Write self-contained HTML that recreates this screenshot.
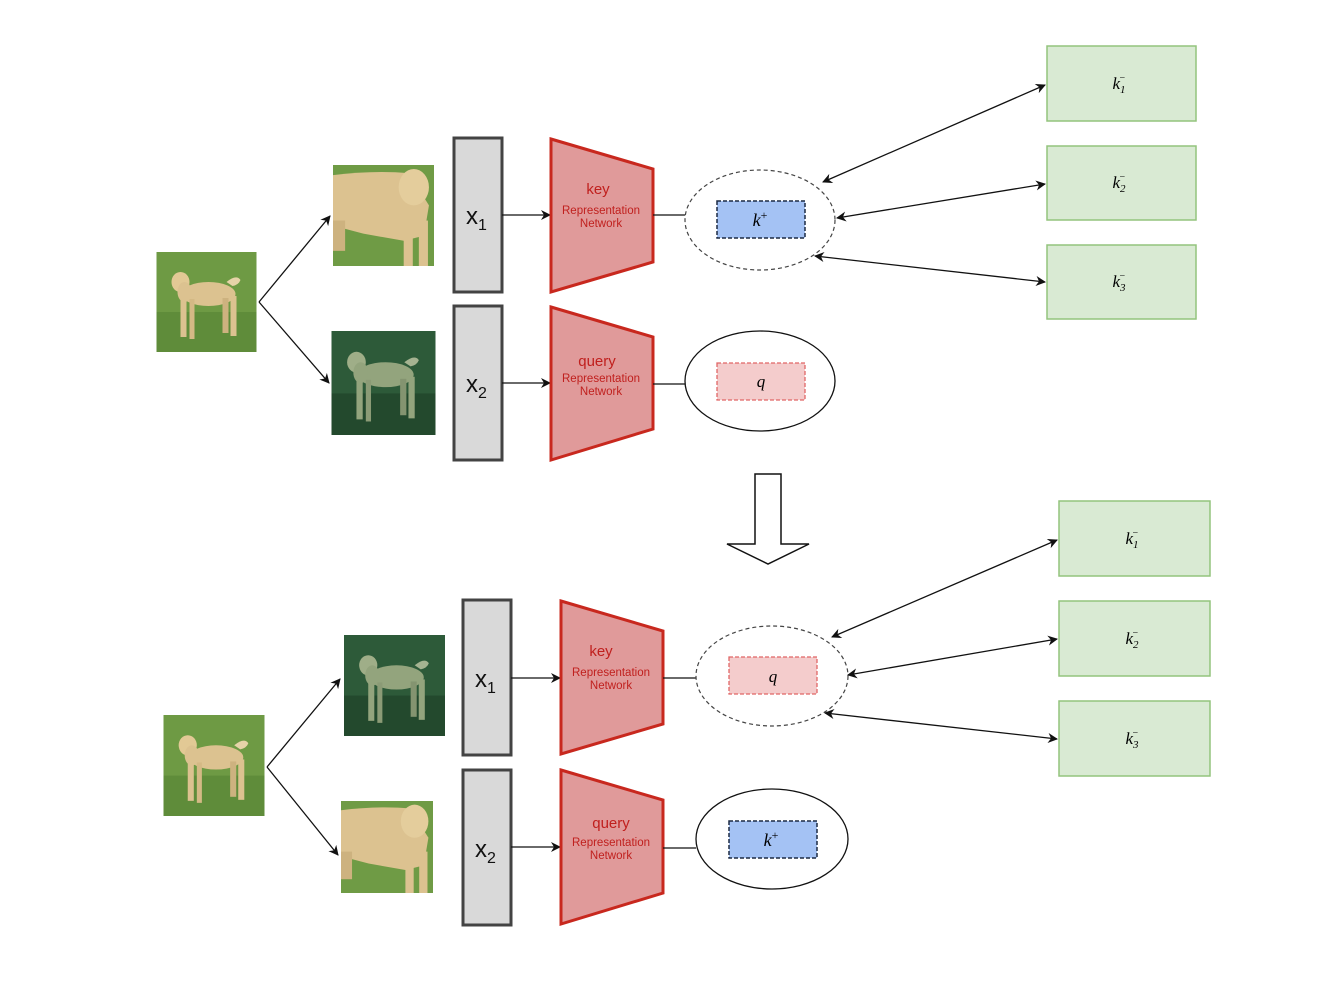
<!DOCTYPE html>
<html><head><meta charset="utf-8"><style>
html,body{margin:0;padding:0;background:#fff;}
svg{display:block;}
.lbl{font-family:"Liberation Sans",sans-serif;fill:#c0201e;text-anchor:middle;}
.math{font-family:"Liberation Serif",serif;font-style:italic;text-anchor:middle;}
.x{font-family:"Liberation Sans",sans-serif;fill:#111;}
</style></head><body>
<svg width="1337" height="1000" viewBox="0 0 1337 1000" xmlns="http://www.w3.org/2000/svg">
<defs>
<marker id="ah" viewBox="0 0 10 10" refX="9" refY="5" markerWidth="11" markerHeight="10" markerUnits="userSpaceOnUse" orient="auto-start-reverse">
<path d="M0,0 L10,5 L0,10 L3,5 z" fill="#111"/></marker>
<symbol id="dogfull" viewBox="0 0 100 100">
<rect width="100" height="100" fill="#6e9a44"/>
<rect y="60" width="100" height="40" fill="#5f8c3a"/>
<path d="M70,30 Q80,22 84,28 Q82,33 76,34 Z" fill="#e6d3a8"/>
<ellipse cx="52" cy="42" rx="27" ry="12" fill="#dcc290"/>
<ellipse cx="24" cy="30" rx="9" ry="10" fill="#e2c995"/>
<ellipse cx="28" cy="40" rx="7" ry="10" fill="#dcc290"/>
<rect x="24" y="45" width="6" height="40" fill="#dcc290"/>
<rect x="33" y="47" width="5" height="40" fill="#d4b985"/>
<rect x="66" y="46" width="6" height="35" fill="#cdb27f"/>
<rect x="74" y="44" width="6" height="40" fill="#dcc290"/>
</symbol>
<symbol id="doggreen" viewBox="0 0 100 100">
<rect width="100" height="100" fill="#2d5a39"/>
<rect y="60" width="100" height="40" fill="#23492d"/>
<path d="M70,30 Q80,22 84,28 Q82,33 76,34 Z" fill="#a5b391"/>
<ellipse cx="52" cy="42" rx="27" ry="12" fill="#93a47d"/>
<ellipse cx="24" cy="30" rx="9" ry="10" fill="#9fae88"/>
<ellipse cx="28" cy="40" rx="7" ry="10" fill="#93a47d"/>
<rect x="24" y="45" width="6" height="40" fill="#93a47d"/>
<rect x="33" y="47" width="5" height="40" fill="#8b9b76"/>
<rect x="66" y="46" width="6" height="35" fill="#849470"/>
<rect x="74" y="44" width="6" height="40" fill="#93a47d"/>
</symbol>
<symbol id="dogcrop" viewBox="0 0 100 100" preserveAspectRatio="none">
<rect width="100" height="100" fill="#6f9b45"/>
<path d="M0,10 Q40,5 75,8 L95,40 L90,70 L70,75 L30,68 L0,60 Z" fill="#dcc290"/>
<ellipse cx="80" cy="22" rx="15" ry="18" fill="#e4cd9c"/>
<rect x="0" y="55" width="12" height="30" fill="#cdb27f"/>
<rect x="70" y="60" width="9" height="40" fill="#dcc290"/>
<rect x="85" y="55" width="9" height="45" fill="#dcc290"/>
</symbol>
</defs>

<use href="#dogfull" x="156" y="252" width="101" height="100"/>
<use href="#dogcrop" x="333" y="165" width="101" height="101"/>
<use href="#doggreen" x="331" y="331" width="105" height="104"/>
<line x1="259" y1="302" x2="330" y2="216" stroke="#111" stroke-width="1.3" marker-end="url(#ah)"/>
<line x1="259" y1="302" x2="329" y2="383" stroke="#111" stroke-width="1.3" marker-end="url(#ah)"/>

<rect x="454" y="138" width="48" height="154" fill="#d9d9d9" stroke="#434343" stroke-width="3"/>
<text class="x" x="466" y="224" font-size="24">x<tspan font-size="16" dy="6">1</tspan></text>
<rect x="454" y="306" width="48" height="154" fill="#d9d9d9" stroke="#434343" stroke-width="3"/>
<text class="x" x="466" y="392" font-size="24">x<tspan font-size="16" dy="6">2</tspan></text>

<line x1="502" y1="215" x2="550" y2="215" stroke="#111" stroke-width="1.2" marker-end="url(#ah)"/>
<line x1="502" y1="383" x2="550" y2="383" stroke="#111" stroke-width="1.2" marker-end="url(#ah)"/>

<polygon points="551,139 653,169 653,262 551,292" fill="#e09a9a" stroke="#c8281e" stroke-width="3"/>
<text class="lbl" x="598" y="194" font-size="15">key</text>
<text class="lbl" x="601" y="214" font-size="11.5">Representation</text>
<text class="lbl" x="601" y="227" font-size="11.5">Network</text>
<polygon points="551,307 653,337 653,429 551,460" fill="#e09a9a" stroke="#c8281e" stroke-width="3"/>
<text class="lbl" x="597" y="366" font-size="15">query</text>
<text class="lbl" x="601" y="382" font-size="11.5">Representation</text>
<text class="lbl" x="601" y="395" font-size="11.5">Network</text>

<line x1="653" y1="215" x2="685" y2="215" stroke="#111" stroke-width="1.2"/>
<line x1="653" y1="384" x2="685" y2="384" stroke="#111" stroke-width="1.2"/>

<ellipse cx="760" cy="220" rx="75" ry="50" fill="none" stroke="#444" stroke-width="1.2" stroke-dasharray="4,3"/>
<rect x="717" y="201" width="88" height="37" fill="#a4c2f4" stroke="#1c2a44" stroke-width="1.5" stroke-dasharray="4,2"/>
<text class="math" x="760" y="226" font-size="18">k<tspan font-size="12" dy="-7" font-style="normal">+</tspan></text>
<ellipse cx="760" cy="381" rx="75" ry="50" fill="none" stroke="#111" stroke-width="1.3"/>
<rect x="717" y="363" width="88" height="37" fill="#f4cccc" stroke="#e06666" stroke-width="1.3" stroke-dasharray="4,2"/>
<text class="math" x="761" y="387" font-size="17">q</text>

<rect x="1047" y="46" width="149" height="75" fill="#d9ead3" stroke="#93c47d" stroke-width="1.5"/>
<rect x="1047" y="146" width="149" height="74" fill="#d9ead3" stroke="#93c47d" stroke-width="1.5"/>
<rect x="1047" y="245" width="149" height="74" fill="#d9ead3" stroke="#93c47d" stroke-width="1.5"/>
<text class="math" x="1119" y="89" font-size="17">k<tspan font-size="11" dy="4">1</tspan><tspan font-size="10" dx="-6" dy="-12" font-style="normal">−</tspan></text>
<text class="math" x="1119" y="188" font-size="17">k<tspan font-size="11" dy="4">2</tspan><tspan font-size="10" dx="-6" dy="-12" font-style="normal">−</tspan></text>
<text class="math" x="1119" y="287" font-size="17">k<tspan font-size="11" dy="4">3</tspan><tspan font-size="10" dx="-6" dy="-12" font-style="normal">−</tspan></text>

<line x1="1045" y1="85" x2="823" y2="182" stroke="#111" stroke-width="1.3" marker-start="url(#ah)" marker-end="url(#ah)"/>
<line x1="1045" y1="184" x2="837" y2="218" stroke="#111" stroke-width="1.3" marker-start="url(#ah)" marker-end="url(#ah)"/>
<line x1="1045" y1="282" x2="815" y2="256" stroke="#111" stroke-width="1.3" marker-start="url(#ah)" marker-end="url(#ah)"/>

<polygon points="755,474 781,474 781,544 809,544 768,564 727,544 755,544" fill="#fff" stroke="#111" stroke-width="1.5"/>

<use href="#dogfull" x="163" y="715" width="102" height="101"/>
<use href="#doggreen" x="344" y="635" width="101" height="101"/>
<use href="#dogcrop" x="341" y="801" width="92" height="92"/>
<line x1="267" y1="767" x2="340" y2="679" stroke="#111" stroke-width="1.3" marker-end="url(#ah)"/>
<line x1="267" y1="767" x2="338" y2="855" stroke="#111" stroke-width="1.3" marker-end="url(#ah)"/>

<rect x="463" y="600" width="48" height="155" fill="#d9d9d9" stroke="#434343" stroke-width="3"/>
<text class="x" x="475" y="687" font-size="24">x<tspan font-size="16" dy="6">1</tspan></text>
<rect x="463" y="770" width="48" height="155" fill="#d9d9d9" stroke="#434343" stroke-width="3"/>
<text class="x" x="475" y="857" font-size="24">x<tspan font-size="16" dy="6">2</tspan></text>

<line x1="511" y1="678" x2="560" y2="678" stroke="#111" stroke-width="1.2" marker-end="url(#ah)"/>
<line x1="511" y1="847" x2="560" y2="847" stroke="#111" stroke-width="1.2" marker-end="url(#ah)"/>

<polygon points="561,601 663,631 663,724 561,754" fill="#e09a9a" stroke="#c8281e" stroke-width="3"/>
<text class="lbl" x="601" y="656" font-size="15">key</text>
<text class="lbl" x="611" y="676" font-size="11.5">Representation</text>
<text class="lbl" x="611" y="689" font-size="11.5">Network</text>
<polygon points="561,770 663,800 663,893 561,924" fill="#e09a9a" stroke="#c8281e" stroke-width="3"/>
<text class="lbl" x="611" y="828" font-size="15">query</text>
<text class="lbl" x="611" y="846" font-size="11.5">Representation</text>
<text class="lbl" x="611" y="859" font-size="11.5">Network</text>

<line x1="663" y1="678" x2="696" y2="678" stroke="#111" stroke-width="1.2"/>
<line x1="663" y1="848" x2="696" y2="848" stroke="#111" stroke-width="1.2"/>

<ellipse cx="772" cy="676" rx="76" ry="50" fill="none" stroke="#444" stroke-width="1.2" stroke-dasharray="4,3"/>
<rect x="729" y="657" width="88" height="37" fill="#f4cccc" stroke="#e06666" stroke-width="1.3" stroke-dasharray="4,2"/>
<text class="math" x="773" y="682" font-size="17">q</text>
<ellipse cx="772" cy="839" rx="76" ry="50" fill="none" stroke="#111" stroke-width="1.3"/>
<rect x="729" y="821" width="88" height="37" fill="#a4c2f4" stroke="#1c2a44" stroke-width="1.5" stroke-dasharray="4,2"/>
<text class="math" x="771" y="846" font-size="18">k<tspan font-size="12" dy="-7" font-style="normal">+</tspan></text>

<rect x="1059" y="501" width="151" height="75" fill="#d9ead3" stroke="#93c47d" stroke-width="1.5"/>
<rect x="1059" y="601" width="151" height="75" fill="#d9ead3" stroke="#93c47d" stroke-width="1.5"/>
<rect x="1059" y="701" width="151" height="75" fill="#d9ead3" stroke="#93c47d" stroke-width="1.5"/>
<text class="math" x="1132" y="544" font-size="17">k<tspan font-size="11" dy="4">1</tspan><tspan font-size="10" dx="-6" dy="-12" font-style="normal">−</tspan></text>
<text class="math" x="1132" y="644" font-size="17">k<tspan font-size="11" dy="4">2</tspan><tspan font-size="10" dx="-6" dy="-12" font-style="normal">−</tspan></text>
<text class="math" x="1132" y="744" font-size="17">k<tspan font-size="11" dy="4">3</tspan><tspan font-size="10" dx="-6" dy="-12" font-style="normal">−</tspan></text>

<line x1="1057" y1="540" x2="832" y2="637" stroke="#111" stroke-width="1.3" marker-start="url(#ah)" marker-end="url(#ah)"/>
<line x1="1057" y1="639" x2="848" y2="675" stroke="#111" stroke-width="1.3" marker-start="url(#ah)" marker-end="url(#ah)"/>
<line x1="1057" y1="739" x2="825" y2="713" stroke="#111" stroke-width="1.3" marker-start="url(#ah)" marker-end="url(#ah)"/>
</svg>
</body></html>
